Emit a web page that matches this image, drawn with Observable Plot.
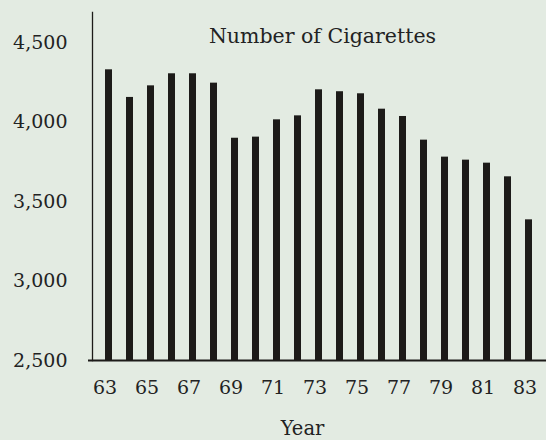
<!DOCTYPE html>
<html>
<head>
<meta charset="utf-8">
<script src="https://cdn.jsdelivr.net/npm/d3@7"></script>
<script src="https://cdn.jsdelivr.net/npm/@observablehq/plot@0.6"></script>
<style>
  html, body { margin: 0; padding: 0; background: #e3ebe2; }
  #chart { width: 546px; height: 440px; overflow: hidden; }
  #chart svg { background: #e3ebe2; }
  #chart svg text { font-family: "DejaVu Serif", serif !important; }
</style>
</head>
<body>
<div id="chart"></div>
<script>
const years = [63,64,65,66,67,68,69,70,71,72,73,74,75,76,77,78,79,80,81,82,83];
const cigarettes = [4331,4157,4230,4306,4306,4247,3900,3907,4016,4041,4205,4193,4180,4083,4037,3888,3781,3762,3743,3657,3386];
const xTicks = [63,65,67,69,71,73,75,77,79,81,83];
const yTicks = [2500,3000,3500,4000,4500];
const title = "Number of Cigarettes";
const xLabel = "Year";

const data = years.map((y, i) => ({year: y, value: cigarettes[i]}));
const ink = "#1d1b19";
const font = "'DejaVu Serif', serif";

const chart = Plot.plot({
  width: 546,
  height: 440,
  marginLeft: 92,
  marginRight: 0,
  marginTop: 12,
  marginBottom: 80,
  style: {background: "#e3ebe2", color: "#222", fontFamily: font, fontSize: "19px", overflow: "visible"},
  x: {type: "band", domain: years, range: [99, 539], paddingInner: 0.644, paddingOuter: 0, align: 0.5},
  y: {domain: [2500, 4692]},
  marks: [
    Plot.barY(data, {x: "year", y1: 2500, y2: "value", fill: ink}),
    Plot.frame({anchor: "left", stroke: ink, strokeWidth: 1.3}),
    Plot.ruleY([2500], {stroke: ink, strokeWidth: 1.8, insetLeft: -4}),
    Plot.axisY(yTicks, {tickSize: 0, tickPadding: 25, tickFormat: d3.format(","), label: null, fontSize: 19, fontFamily: font, fill: "#222"}),
    Plot.axisX(xTicks, {tickSize: 0, tickPadding: 20, dx: -4, label: null, fontSize: 19, fontFamily: font, fill: "#222"}),
    Plot.text([title], {text: d => d, frameAnchor: "top-left", dx: 230, dy: 16, textAnchor: "middle", fontSize: 20.5, fontFamily: font, fill: "#222"}),
    Plot.text([xLabel], {text: d => d, frameAnchor: "bottom-left", dx: 210, dy: 74, textAnchor: "middle", fontSize: 19.5, fontFamily: font, fill: "#222"})
  ]
});
document.getElementById("chart").appendChild(chart);
</script>
</body>
</html>
